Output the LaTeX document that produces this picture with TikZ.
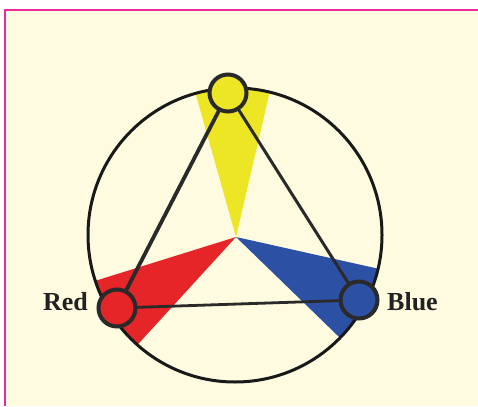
\documentclass[tikz,border=0pt]{standalone}
\usepackage{fontspec}
\setmainfont{Liberation Serif}
\usetikzlibrary{calc}
\pgfdeclarelayer{bg}
\pgfdeclarelayer{edges}
\pgfsetlayers{bg,edges,main}
\begin{document}
\begin{tikzpicture}[x=1pt,y=-1pt,
  ink/.style={draw=lineink,line width=3.8pt},
  dot/.style={circle,draw=lineink,line width=4pt,minimum size=37pt,inner sep=0pt},
  lbl/.style={font=\bfseries\fontsize{26}{26}\selectfont,text=labelink,inner sep=0pt}]
\definecolor{cream}{HTML}{FEFBE0}
\definecolor{pinkline}{HTML}{EE2A9B}
\definecolor{lineink}{HTML}{2A2A2A}
\definecolor{labelink}{HTML}{222222}
\definecolor{cred}{HTML}{E52528}
\definecolor{cyel}{HTML}{EDE624}
\definecolor{cblue}{HTML}{2C50A4}
\useasboundingbox (0,0) rectangle (478,406);
% nodes
\node[dot,fill=cyel] (Y) at (228,93) {};
\node[dot,fill=cred] (R) at (117,308) {};
\node[dot,fill=cblue] (B) at (359,300) {};
\node[lbl,anchor=base east] (tR) at (88,310) {Red};
\node[lbl,anchor=base west] (tB) at (387,310) {Blue};
\coordinate (apex) at (236,237);
\begin{pgfonlayer}{bg}
\fill[white] (0,0) rectangle (478,406);
\fill[cream] (5,10) rectangle (478,406);
\draw[pinkline,line width=1.4pt] (5,406) -- (5,10) -- (478,10);
\begin{scope}
  \clip (235,235) circle (147);
  \fill[cyel] (apex) -- ($(apex)!3!(196,95)$) -- ($(apex)!3!(269,95)$) -- cycle;
  \fill[cred] (apex) -- ($(apex)!3!(98,280)$) -- ($(apex)!3!(140,342)$) -- cycle;
  \fill[cblue] (apex) -- ($(apex)!3!(375,268)$) -- ($(apex)!3!(337,335)$) -- cycle;
\end{scope}
\draw[black!90,line width=3pt] (235,235) circle (147);
\end{pgfonlayer}
\begin{pgfonlayer}{edges}
\draw[ink] (Y.center) -- (R.center);
\draw[ink,line width=3pt] (Y.center) -- (B.center);
\draw[ink,line width=2.8pt] (R.center) -- (B.center);
\end{pgfonlayer}
\end{tikzpicture}
\end{document}
